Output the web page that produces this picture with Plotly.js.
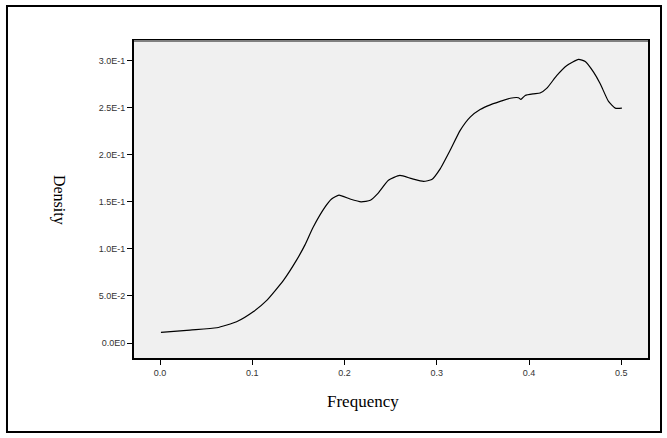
<!DOCTYPE html>
<html>
<head>
<meta charset="utf-8">
<script src="https://cdn.plot.ly/plotly-3.0.1.min.js"></script>
<style>html,body{margin:0;padding:0;background:#fff;}#chart{width:667px;height:438px;}</style>
</head>
<body>
<div id="chart"></div>
<script>
var frequency = [0.001, 0.0325, 0.0615, 0.083, 0.101, 0.116, 0.134, 0.148, 0.157, 0.166, 0.179, 0.186, 0.194, 0.206, 0.218, 0.228, 0.236, 0.2476, 0.260, 0.273, 0.2856, 0.2946, 0.3037, 0.3145, 0.3254, 0.3362, 0.347, 0.358, 0.3688, 0.3796, 0.3886, 0.3912, 0.3959, 0.4049, 0.412, 0.4194, 0.430, 0.4411, 0.4537, 0.461, 0.470, 0.4772, 0.4862, 0.4935, 0.5007];
var density = [0.0113, 0.0138, 0.0162, 0.0226, 0.0332, 0.0456, 0.0668, 0.088, 0.104, 0.123, 0.1446, 0.153, 0.157, 0.153, 0.150, 0.1516, 0.1587, 0.1729, 0.178, 0.1746, 0.1718, 0.1736, 0.185, 0.2047, 0.2259, 0.240, 0.248, 0.253, 0.2566, 0.260, 0.2605, 0.2587, 0.263, 0.2647, 0.2655, 0.2707, 0.284, 0.2948, 0.3012, 0.299, 0.2877, 0.2754, 0.2566, 0.2495, 0.2495];
var xTickVals = [0.0, 0.1, 0.2, 0.3, 0.4, 0.5];
var xTickText = ["0.0", "0.1", "0.2", "0.3", "0.4", "0.5"];
var yTickVals = [0.0, 0.05, 0.10, 0.15, 0.20, 0.25, 0.30];
var yTickText = ["0.0E0", "5.0E-2", "1.0E-1", "1.5E-1", "2.0E-1", "2.5E-1", "3.0E-1"];

var trace = {
  x: frequency, y: density, type: 'scatter', mode: 'lines',
  line: {color: '#000', width: 1.2, shape: 'spline', smoothing: 0.5},
  hoverinfo: 'skip'
};

var tickFont = {family: 'Liberation Sans, Arial, sans-serif', size: 9, color: '#333'};
var layout = {
  width: 667, height: 438,
  margin: {l: 134, r: 19, t: 41, b: 80},
  paper_bgcolor: '#fff', plot_bgcolor: '#f0f0f0',
  showlegend: false,
  xaxis: {
    range: [-0.0282, 0.529], tickmode: 'array', tickvals: xTickVals, ticktext: xTickText,
    ticks: 'outside', ticklen: 5, tickcolor: '#000', tickwidth: 1,
    showgrid: false, zeroline: false, showline: true, linecolor: '#000', linewidth: 2, mirror: true,
    tickfont: tickFont
  },
  yaxis: {
    range: [-0.0159, 0.3208], tickmode: 'array', tickvals: yTickVals, ticktext: yTickText,
    ticks: 'outside', ticklen: 5, tickcolor: '#000', tickwidth: 1,
    showgrid: false, zeroline: false, showline: true, linecolor: '#000', linewidth: 2, mirror: true,
    tickfont: tickFont
  },
  shapes: [
    {type: 'rect', xref: 'paper', yref: 'paper', x0: -0.2471, x1: 1.0253, y0: -0.2334, y1: 1.1104,
     line: {color: '#000', width: 2}, fillcolor: 'rgba(0,0,0,0)', layer: 'below'},
    {type: 'line', xref: 'paper', yref: 'paper', x0: 0, x1: 1, y0: 1, y1: 1,
     line: {color: '#808080', width: 2}}
  ],
  annotations: [
    {text: 'Density', xref: 'paper', yref: 'paper', x: -0.1455, y: 0.498, showarrow: false,
     textangle: 90, font: {family: 'Liberation Serif, Times New Roman, serif', size: 16, color: '#000'},
     xanchor: 'center', yanchor: 'middle'},
    {text: 'Frequency', xref: 'paper', yref: 'paper', x: 0.4455, y: -0.1388, showarrow: false,
     font: {family: 'Liberation Serif, Times New Roman, serif', size: 17, color: '#000'},
     xanchor: 'center', yanchor: 'middle'}
  ]
};
Plotly.newPlot('chart', [trace], layout, {staticPlot: true, displayModeBar: false});
</script>
</body>
</html>
